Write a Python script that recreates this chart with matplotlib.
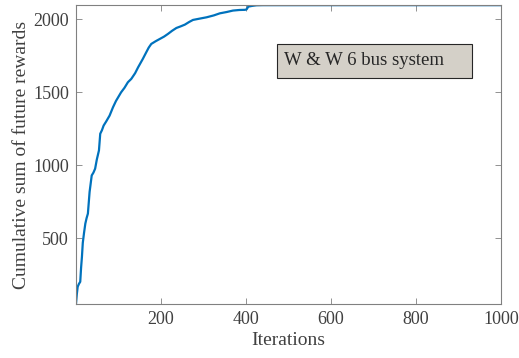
import matplotlib
matplotlib.use("Agg")
import matplotlib.pyplot as plt
from matplotlib.patches import Rectangle

plt.rcParams['font.family'] = ['Liberation Serif', 'DejaVu Serif']

# convergence of the cumulative reward over training iterations
iterations = [1, 3, 5, 8, 11, 13, 15, 17, 20, 23, 26, 29, 33, 38, 42, 46, 50, 55,
              58, 62, 66, 72, 80, 88, 95, 107, 115, 123, 131, 140, 147, 158, 166,
              172, 178, 188, 198, 208, 217, 227, 237, 247, 257, 267, 276, 290, 308,
              325, 339, 355, 370, 385, 398, 402, 406, 415, 425, 440, 1000]
rewards = [52, 120, 170, 190, 204, 300, 375, 470, 540, 602, 640, 670, 818, 931,
           950, 977, 1040, 1102, 1216, 1240, 1272, 1300, 1340, 1397, 1440, 1499,
           1530, 1568, 1591, 1630, 1670, 1727, 1772, 1805, 1830, 1848, 1864, 1880,
           1898, 1920, 1939, 1950, 1962, 1980, 1994, 2002, 2012, 2025, 2039, 2048,
           2058, 2062, 2063, 2066, 2085, 2090, 2094, 2095, 2095]
x_ticks = [200, 400, 600, 800, 1000]
y_ticks = [500, 1000, 1500, 2000]

fig = plt.figure(figsize=(5.19, 3.58), dpi=100, facecolor='white')
ax = fig.add_axes([0.1464, 0.1508, 0.8189, 0.8352])

ax.plot(iterations, rewards, color='#0072BD', linewidth=1.6)
ax.set_xlim(1, 1000)
ax.set_ylim(52, 2096)
ax.set_xticks(x_ticks)
ax.set_yticks(y_ticks)

txt_color = '#404040'
for s in ax.spines.values():
    s.set_color('#808080')
    s.set_linewidth(0.8)
ax.tick_params(direction='in', top=True, right=True, length=4, width=0.6,
               color='#808080', labelcolor=txt_color, labelsize=13, pad=5)

ax.set_xlabel('Iterations', fontsize=14, color=txt_color, labelpad=3)
ax.set_ylabel('Cumulative sum of future rewards', fontsize=14, color=txt_color, labelpad=2)

# annotation box with fixed width, text left aligned inside
ax.add_patch(Rectangle((0.473, 0.756), 0.459, 0.114, transform=ax.transAxes,
                       facecolor='#d4d0c8', edgecolor='#262626', linewidth=0.8,
                       zorder=3))
ax.text(0.489, 0.813, 'W & W 6 bus system', transform=ax.transAxes,
        fontsize=13.5, color='#262626', va='center', ha='left', zorder=4)

fig.savefig('out.png', dpi=100)
